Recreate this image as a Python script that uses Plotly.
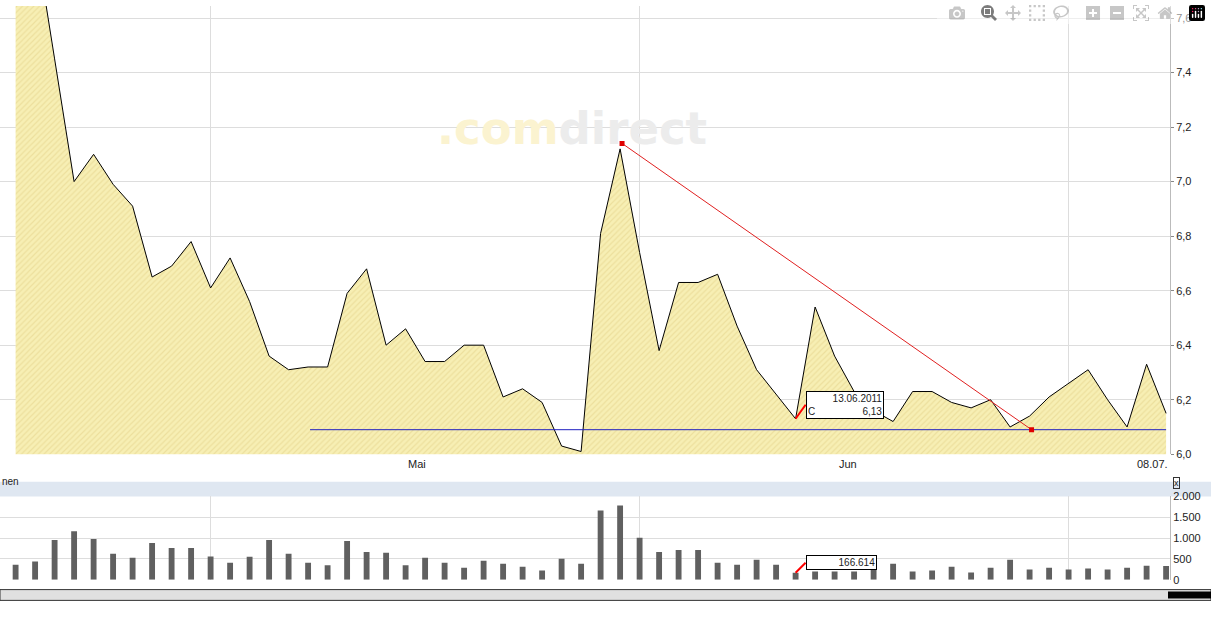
import plotly.graph_objects as go

price = [8.0, 7.9, 7.45, 7.0, 7.10, 6.99, 6.91, 6.65, 6.69, 6.78,
         6.61, 6.72, 6.56, 6.36, 6.31, 6.32, 6.32, 6.59, 6.68, 6.40,
         6.46, 6.34, 6.34, 6.40, 6.40, 6.21, 6.24, 6.19, 6.03, 6.01,
         6.81, 7.12, 6.74, 6.38, 6.63, 6.63, 6.66, 6.47, 6.31, 6.22,
         6.13, 6.54, 6.36, 6.23, 6.16, 6.12, 6.23, 6.23, 6.19, 6.17,
         6.20, 6.10, 6.14, 6.21, 6.26, 6.31, 6.20, 6.10, 6.33, 6.15]
volume = [362, 441, 953, 1165, 976, 622, 528, 882, 764, 764,
          559, 409, 551, 953, 622, 409, 346, 929, 669, 646,
          346, 528, 409, 291, 457, 386, 315, 220, 504, 386,
          1661, 1780, 1008, 669, 717, 717, 409, 362, 480, 362,
          167, 200, 200, 200, 244, 386, 197, 220, 315, 173,
          291, 480, 244, 291, 244, 268, 244, 291, 339, 330]
idx = list(range(len(price)))

month_grid = [10, 32, 54]
month_label_pos = [20.6, 42.7, 58.3]
month_labels = ["Mai", "Jun", "08.07."]
price_ticks = [6.0, 6.2, 6.4, 6.6, 6.8, 7.0, 7.2, 7.4, 7.6]
price_ticktext = ["6,0", "6,2", "6,4", "6,6", "6,8", "7,0", "7,2", "7,4", "7,6"]
vol_ticks = [0, 500, 1000, 1500, 2000]
vol_ticktext = ["0", "500", "1.000", "1.500", "2.000"]

support_x = [15.1, 59]
support_y = [6.09, 6.09]
trend_x = [31.1, 52.1]
trend_y = [7.14, 6.09]

XR = [-0.8, 59.2]
fig = go.Figure()
fig.add_trace(go.Scatter(x=idx, y=price, mode="lines", line=dict(color="black", width=1),
                         fill="tozeroy", fillcolor="#f6eeb0",
                         fillpattern=dict(shape="/", fgcolor="#e2cf86", bgcolor="#f7efb4", size=4, solidity=0.3),
                         xaxis="x", yaxis="y", hoverinfo="skip"))
fig.add_trace(go.Scatter(x=support_x, y=support_y, mode="lines", line=dict(color="#2020c0", width=1),
                         xaxis="x", yaxis="y"))
fig.add_trace(go.Scatter(x=trend_x, y=trend_y, mode="lines+markers", line=dict(color="#e02020", width=1),
                         marker=dict(symbol="square", size=5, color="#e00000"), xaxis="x", yaxis="y"))
fig.add_trace(go.Bar(x=idx, y=volume, marker=dict(color="#606060", line=dict(width=0)), width=0.3,
                     xaxis="x2", yaxis="y2"))

xd = [0, 1170/1211]
grid = "#dddddd"
fig.update_layout(
    width=1211, height=626, margin=dict(l=0, r=0, t=0, b=0), showlegend=False,
    paper_bgcolor="white", plot_bgcolor="white",
    font=dict(family="Liberation Sans, Arial", size=11, color="#222"),
    xaxis=dict(domain=xd, range=XR, tickvals=month_grid, ticktext=["", "", ""], showgrid=True,
               gridcolor=grid, zeroline=False, ticks="", anchor="y"),
    yaxis=dict(domain=[1-457/626, 1], range=[6.0, 7.644], side="right", tickvals=price_ticks,
               ticktext=price_ticktext, showgrid=True, gridcolor=grid, zeroline=False,
               tickfont=dict(size=11), ticks="outside", ticklen=3, tickcolor="#888",
               showline=True, linecolor="#bbb", anchor="x"),
    xaxis2=dict(domain=xd, range=XR, tickvals=month_grid, showticklabels=False, showgrid=True,
                gridcolor=grid, zeroline=False, anchor="y2"),
    yaxis2=dict(domain=[1-585/626, 1-500/626], range=[0, 2000], side="right", tickvals=vol_ticks,
                ticktext=vol_ticktext, showgrid=True, gridcolor=grid, zeroline=False,
                tickfont=dict(size=11), showline=True, linecolor="#bbb", anchor="x2"),
)
for p, t in zip(month_label_pos, month_labels):
    fig.add_annotation(x=p, y=6.0, xref="x", yref="y", text=t, showarrow=False, yanchor="top", yshift=-2,
                       font=dict(size=11))
fig.add_shape(type="rect", xref="paper", yref="paper", x0=0, x1=1, y0=1-500/626, y1=1-485/626,
              fillcolor="#dfe7f1", line=dict(width=0), layer="below")
fig.add_annotation(xref="paper", yref="paper", x=0, y=1-492/626, text="nen", showarrow=False,
                   xanchor="left", font=dict(size=10))
fig.add_annotation(xref="paper", yref="paper", x=1180/1211, y=1-492/626, text="x", showarrow=False,
                   bordercolor="#333", borderwidth=1, borderpad=0, font=dict(size=9))
fig.add_shape(type="rect", xref="paper", yref="paper", x0=0, x1=1, y0=1-606/626, y1=1-595/626,
              fillcolor="#e0e0e0", line=dict(color="#333", width=1))
fig.add_shape(type="rect", xref="paper", yref="paper", x0=1168/1211, x1=1, y0=1-604/626, y1=1-597/626,
              fillcolor="#000", line=dict(width=0))
fig.add_annotation(xref="paper", yref="paper", x=435/1211, y=1-125/626, xanchor="left", yanchor="middle",
                   text="<span style='color:#fbf3d0'>.com</span><span style='color:#ececec'>direct</span>",
                   showarrow=False, font=dict(size=45, family="DejaVu Sans", weight="bold"))
fig.add_annotation(x=40, y=6.13, xref="x", yref="y", ax=10, ay=-14, axref="pixel", ayref="pixel",
                   text="13.06.2011<br>C&nbsp;&nbsp;&nbsp;&nbsp;&nbsp;&nbsp;&nbsp;&nbsp;&nbsp;&nbsp;&nbsp;&nbsp;&nbsp;&nbsp;&nbsp;&nbsp;&nbsp;6,13",
                   align="right", xanchor="left", showarrow=True, arrowcolor="red", arrowhead=0, arrowwidth=2,
                   bgcolor="white", bordercolor="black", borderwidth=1, font=dict(size=10))
fig.add_annotation(x=40, y=167, xref="x2", yref="y2", ax=10, ay=-10, text="&nbsp;&nbsp;&nbsp;&nbsp;&nbsp;&nbsp;&nbsp;&nbsp;&nbsp;&nbsp;&nbsp;166.614",
                   xanchor="left", align="right", showarrow=True, arrowcolor="red", arrowhead=0, arrowwidth=2,
                   bgcolor="white", bordercolor="black", borderwidth=1, font=dict(size=10))
fig.write_html("out.html", post_script="document.body.style.margin='0';document.body.style.overflow='hidden';")
